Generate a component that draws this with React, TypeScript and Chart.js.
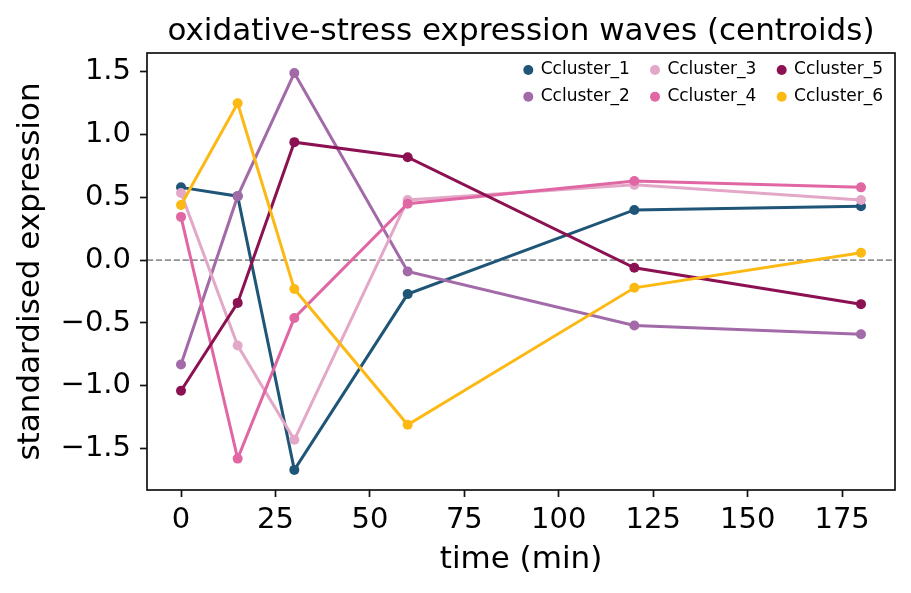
import { useEffect, useRef } from "react"
import { Chart, registerables } from "chart.js"

Chart.register(...registerables)

// time points (min)
const times = [0, 15, 30, 60, 120, 180]

const clusterNames = ["Ccluster_1", "Ccluster_2", "Ccluster_3", "Ccluster_4", "Ccluster_5", "Ccluster_6"]
const clusterColors = ["#1f5577", "#a26aa8", "#e3a8c8", "#e067a4", "#8c1152", "#fcb913"]

// centroid values
const cluster1 = [0.58, 0.51, -1.67, -0.27, 0.4, 0.43]
const cluster2 = [-0.83, 0.51, 1.49, -0.09, -0.52, -0.59]
const cluster3 = [0.535, -0.68, -1.43, 0.48, 0.6, 0.48]
const cluster4 = [0.345, -1.58, -0.46, 0.45, 0.63, 0.58]
const cluster5 = [-1.04, -0.34, 0.94, 0.82, -0.06, -0.35]
const cluster6 = [0.44, 1.25, -0.23, -1.31, -0.22, 0.06]
const clusterValues = [cluster1, cluster2, cluster3, cluster4, cluster5, cluster6]

const xTicks = [0, 25, 50, 75, 100, 125, 150, 175]
const yTicks = [-1.5, -1, -0.5, 0, 0.5, 1, 1.5]

const chartTitle = "oxidative-stress expression waves (centroids)"
const FONT = "'DejaVu Sans', sans-serif"

const zeroLinePlugin = {
  id: "zeroLine",
  beforeDatasetsDraw(chart: any) {
    const { ctx, chartArea, scales } = chart
    const y = scales.y.getPixelForValue(0)
    ctx.save()
    ctx.strokeStyle = "#929292"
    ctx.lineWidth = 1.7
    ctx.setLineDash([6.2, 2.7])
    ctx.beginPath()
    ctx.moveTo(chartArea.left, y)
    ctx.lineTo(chartArea.right, y)
    ctx.stroke()
    ctx.restore()
  },
}

const framePlugin = {
  id: "frame",
  afterDatasetsDraw(chart: any) {
    const { ctx, chartArea } = chart
    ctx.save()
    ctx.strokeStyle = "#111"
    ctx.lineWidth = 1.7
    ctx.strokeRect(chartArea.left, chartArea.top, chartArea.right - chartArea.left, chartArea.bottom - chartArea.top)
    ctx.restore()
  },
}

const titlePlugin = {
  id: "plotTitle",
  afterDraw(chart: any) {
    const { ctx, chartArea } = chart
    ctx.save()
    ctx.font = `31px ${FONT}`
    ctx.fillStyle = "#000"
    ctx.textAlign = "center"
    ctx.textBaseline = "alphabetic"
    ctx.fillText(chartTitle, (chartArea.left + chartArea.right) / 2, chartArea.top - 13)
    ctx.restore()
  },
}

// matplotlib-like legend: 3 columns, filled column by column
const legendPlugin = {
  id: "innerLegend",
  afterDraw(chart: any) {
    const { ctx, chartArea } = chart
    ctx.save()
    ctx.font = `17px ${FONT}`
    ctx.textAlign = "left"
    ctx.textBaseline = "middle"
    clusterNames.forEach((name, i) => {
      const col = Math.floor(i / 2)
      const row = i % 2
      const x = chartArea.right - 366.7 + col * 126.7
      const y = chartArea.top + 17 + row * 26.7
      ctx.fillStyle = clusterColors[i]
      ctx.beginPath()
      ctx.arc(x, y, 5, 0, Math.PI * 2)
      ctx.fill()
      ctx.fillStyle = "#000"
      ctx.fillText(name, x + 12.4, y)
    })
    ctx.restore()
  },
}

const formatY = (v: number) => (v < 0 ? "\u2212" : "") + Math.abs(v).toFixed(1)

export default function App() {
  const chartRef = useRef<HTMLCanvasElement>(null)
  const chartInstance = useRef<Chart | null>(null)

  useEffect(() => {
    if (!chartRef.current) return
    if (chartInstance.current) chartInstance.current.destroy()
    const ctx = chartRef.current.getContext("2d")
    if (!ctx) return

    const datasets = clusterNames.map((name, i) => ({
      label: name,
      data: times.map((t, j) => ({ x: t, y: clusterValues[i][j] })),
      borderColor: clusterColors[i],
      backgroundColor: clusterColors[i],
      pointBackgroundColor: clusterColors[i],
      pointBorderWidth: 0,
      pointRadius: 5,
      borderWidth: 3,
      tension: 0,
      order: clusterNames.length - 1 - i,
    }))

    const tickFont = { size: 29, family: FONT }
    const labelFont = { size: 31, family: FONT }

    chartInstance.current = new Chart(ctx, {
      type: "line",
      data: { datasets },
      plugins: [zeroLinePlugin, framePlugin, titlePlugin, legendPlugin],
      options: {
        animation: false,
        responsive: true,
        maintainAspectRatio: false,
        events: [],
        layout: { padding: { top: 53, right: 16, left: 0, bottom: 0 } },
        plugins: {
          legend: { display: false },
          title: { display: false },
          tooltip: { enabled: false },
        },
        scales: {
          x: {
            type: "linear",
            min: -9,
            max: 189,
            afterBuildTicks: (scale: any) => {
              scale.ticks = xTicks.map((v) => ({ value: v }))
            },
            afterFit: (scale: any) => {
              scale.height = 103
            },
            ticks: {
              font: tickFont,
              color: "#000",
              padding: 6,
              maxRotation: 0,
              autoSkip: false,
              callback: (v: any) => String(v),
            },
            grid: { drawOnChartArea: false, drawTicks: true, tickLength: 7, tickWidth: 1.7, tickColor: "#111" },
            border: { display: false },
            title: { display: true, text: "time (min)", font: labelFont, color: "#000", padding: { top: 0, bottom: 14 } },
          },
          y: {
            type: "linear",
            min: -1.83,
            max: 1.65,
            afterBuildTicks: (scale: any) => {
              scale.ticks = yTicks.map((v) => ({ value: v }))
            },
            afterFit: (scale: any) => {
              scale.width = 147
            },
            ticks: {
              font: tickFont,
              color: "#000",
              padding: 9,
              autoSkip: false,
              callback: (v: any) => formatY(Number(v)),
            },
            grid: { drawOnChartArea: false, drawTicks: true, tickLength: 7, tickWidth: 1.7, tickColor: "#111" },
            border: { display: false },
            title: {
              display: true,
              text: "standardised expression",
              font: labelFont,
              color: "#000",
              padding: { top: 12, bottom: 0 },
            },
          },
        },
      } as any,
    })

    return () => {
      if (chartInstance.current) {
        chartInstance.current.destroy()
        chartInstance.current = null
      }
    }
  }, [])

  return (
    <div style={{ position: "fixed", left: 0, top: 0, width: 911, height: 593, background: "#fff" }}>
      <canvas ref={chartRef} />
    </div>
  )
}
